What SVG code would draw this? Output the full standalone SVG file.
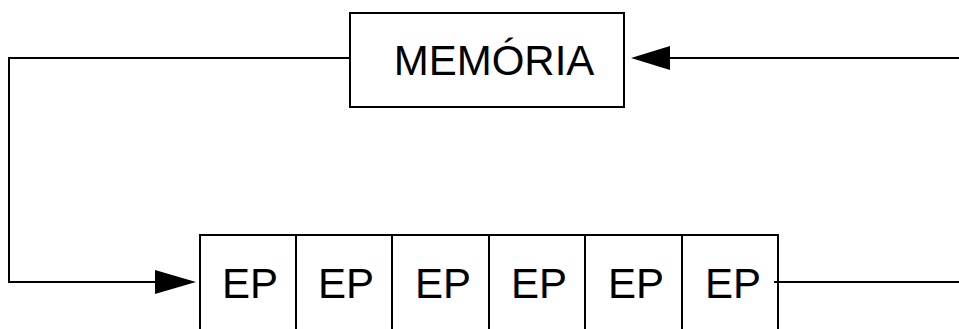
<svg xmlns="http://www.w3.org/2000/svg" width="959" height="329" viewBox="0 0 959 329">
  <defs>
    <style>
      .ln { fill: none; stroke: #000; stroke-width: 2; }
      .box { fill: #fff; stroke: #000; stroke-width: 2; }
      .lbl { font-family: "Liberation Sans", Arial, sans-serif; font-size: 42px; fill: #000; text-anchor: middle; }
      .head { fill: #000; stroke: none; }
    </style>
  </defs>

  <!-- connectors -->
  <g id="connectors">
    <!-- memory output back down to the processor array -->
    <polyline class="ln" points="350,58 9,58 9,282 160,282"/>
    <polygon class="head" points="196,282 155,270 155,294"/>
    <!-- array output and return into memory -->
    <line class="ln" x1="774" y1="282" x2="959" y2="282"/>
    <line class="ln" x1="665" y1="58" x2="959" y2="58"/>
    <polygon class="head" points="631,58 670,46 670,70"/>
  </g>

  <!-- memory block -->
  <g id="memoria">
    <rect class="box" x="350" y="13" width="274" height="94"/>
    <text class="lbl" x="494" y="75">MEMÓRIA</text>
  </g>

  <!-- processing elements (open at the bottom) -->
  <g id="ep-array">
    <polyline class="ln" points="200,330 200,235 778,235 778,330"/>
    <line class="ln" x1="296" y1="235" x2="296" y2="330"/>
    <line class="ln" x1="392" y1="235" x2="392" y2="330"/>
    <line class="ln" x1="489" y1="235" x2="489" y2="330"/>
    <line class="ln" x1="585" y1="235" x2="585" y2="330"/>
    <line class="ln" x1="682" y1="235" x2="682" y2="330"/>
  </g>
  <g id="ep1"><text class="lbl" x="250" y="298">EP</text></g>
  <g id="ep2"><text class="lbl" x="346" y="298">EP</text></g>
  <g id="ep3"><text class="lbl" x="443" y="298">EP</text></g>
  <g id="ep4"><text class="lbl" x="539" y="298">EP</text></g>
  <g id="ep5"><text class="lbl" x="636" y="298">EP</text></g>
  <g id="ep6"><text class="lbl" x="733" y="298">EP</text></g>
</svg>
